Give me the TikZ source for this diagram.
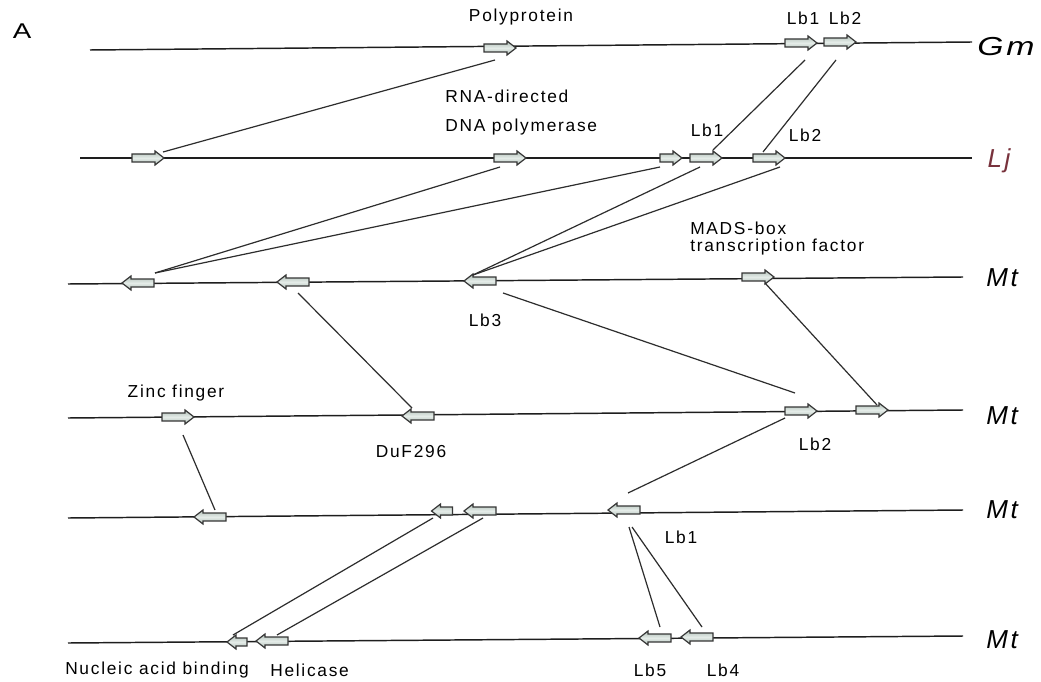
\documentclass[tikz,border=0pt]{standalone}
\usepackage{fontspec}
\setmainfont{Liberation Sans}[LetterSpace=10]
\newfontfamily\spfont{Liberation Sans}[LetterSpace=10]
\newfontfamily\gmfont{Liberation Sans}[LetterSpace=10,FakeStretch=1.3]
\usetikzlibrary{calc}
\definecolor{genemid}{RGB}{228,236,232}
\definecolor{geneedge}{RGB}{176,190,182}
\definecolor{geneline}{RGB}{55,55,55}
\definecolor{trackcol}{RGB}{30,30,30}
\definecolor{conncol}{RGB}{45,45,45}
\definecolor{ljred}{RGB}{120,50,60}
\tikzset{
  track/.style={draw=trackcol, line width=1.1pt},
  conn/.style={draw=conncol, line width=0.9pt},
  genenode/.style={rectangle, draw=none, inner sep=0pt, minimum height=7.5pt},
  genebody/.style={draw=geneline, line width=0.9pt, top color=geneedge, bottom color=geneedge, middle color=genemid},
  lbl/.style={inner sep=0pt, font=\fontsize{13}{14}\selectfont},
  sp/.style={inner sep=0pt, font=\spfont\itshape\fontsize{19.5}{20}\selectfont},
}
\newcommand\gene[5]{%
  \node[genenode, minimum width={#4*0.75pt}] (#1) at (#2,#3) {};
  \begin{scope}[shift={(#2,#3)}, xscale=#5]
    \path[genebody] ({-#4/2},-4) -- ({#4/2-9},-4) -- ({#4/2-9},-7) -- ({#4/2},0) -- ({#4/2-9},7) -- ({#4/2-9},4) -- ({-#4/2},4) -- cycle;
  \end{scope}}
\begin{document}
\begin{tikzpicture}[x=0.75pt, y=-0.75pt]
\useasboundingbox (0,0) rectangle (1041,681);
\fill[white] (0,0) rectangle (1041,681);

% tracks
\coordinate (t1l) at (90,50);  \coordinate (t1r) at (972,42);
\coordinate (t2l) at (80,158); \coordinate (t2r) at (972,158);
\coordinate (t3l) at (68,284); \coordinate (t3r) at (963,277);
\coordinate (t4l) at (68,418); \coordinate (t4r) at (963,410);
\coordinate (t5l) at (68,518); \coordinate (t5r) at (963,510);
\coordinate (t6l) at (68,643); \coordinate (t6r) at (963,636);
\draw[track] (t1l) -- (t1r);
\draw[track] (t2l) -- (t2r);
\draw[track] (t3l) -- (t3r);
\draw[track] (t4l) -- (t4r);
\draw[track] (t5l) -- (t5r);
\draw[track] (t6l) -- (t6r);

% genes
\gene{g1a}{500}{48}{32}{1}
\gene{g1b}{801}{43}{32}{1}
\gene{g1c}{840}{42}{32}{1}

\gene{g2a}{148}{158}{32}{1}
\gene{g2b}{510}{158}{32}{1}
\gene{g2c}{671}{158}{22}{1}
\gene{g2d}{706}{158}{32}{1}
\gene{g2e}{769}{158}{32}{1}

\gene{g3a}{138}{283}{32}{-1}
\gene{g3b}{293}{282}{32}{-1}
\gene{g3c}{480}{281}{32}{-1}
\gene{g3d}{758}{277}{32}{1}

\gene{g4a}{178}{417}{32}{1}
\gene{g4b}{418}{416}{32}{-1}
\gene{g4c}{801}{411}{32}{1}
\gene{g4d}{872}{410}{32}{1}

\gene{g5a}{210}{517}{32}{-1}
\gene{g5b}{442}{511}{21}{-1}
\gene{g5c}{480}{511}{32}{-1}
\gene{g5d}{624}{510}{32}{-1}

\gene{g6a}{237}{642}{20}{-1}
\gene{g6b}{272}{641}{32}{-1}
\gene{g6c}{655}{638}{32}{-1}
\gene{g6d}{697}{637}{32}{-1}

% connectors
\draw[conn] ($(g1a)+(-5,12)$) -- ($(g2a)+(15,-6)$);
\draw[conn] ($(g1b)+(4,17)$) -- ($(g2d)+(7,-8)$);
\draw[conn] ($(g1c)+(-4,18)$) -- ($(g2e)+(-6,-6)$);
\draw[conn] ($(g2b)+(-10,9)$) -- ($(g3a)+(17,-10)$);
\draw[conn] ($(g2c)+(-11,9)$) -- ($(g3a)+(17,-10)$);
\draw[conn] ($(g2d)+(-6,9)$) -- ($(g3c)+(-7,-6)$);
\draw[conn] ($(g2e)+(11,9)$) -- ($(g3c)+(-7,-6)$);
\draw[conn] ($(g3b)+(5,11)$) -- ($(g4b)+(-6,-8)$);
\draw[conn] ($(g3c)+(23,12)$) -- ($(g4c)+(-6,-18)$);
\draw[conn] ($(g3d)+(7,6)$) -- ($(g4d)+(5,-5)$);
\draw[conn] ($(g4c)+(-16,7)$) -- ($(g5d)+(4,-17)$);
\draw[conn] ($(g4a)+(5,18)$) -- ($(g5a)+(5,-7)$);
\draw[conn] ($(g5b)+(-9,7)$) -- ($(g6a)+(-4,-7)$);
\draw[conn] ($(g5c)+(3,7)$) -- ($(g6b)+(5,-6)$);
\draw[conn] ($(g5d)+(5,17)$) -- ($(g6c)+(5,-11)$);
\draw[conn] ($(g5d)+(8,17)$) -- ($(g6d)+(5,-10)$);

% labels
\node[inner sep=0pt, font=\gmfont\fontsize{16}{17}\selectfont] (lA) at (22,31) {A};
\node[lbl] (lpoly) at (521,17) {Polyprotein};
\node[lbl] (l1b) at (803,18) {Lb1};
\node[lbl] (l1c) at (845,18) {Lb2};
\node[lbl, anchor=west] (lrna) at (445,96) {RNA-directed};
\node[lbl, anchor=west] (ldna) at (445,127) {DNA polymerase};
\node[lbl] (l2d) at (707,130) {Lb1};
\node[lbl] (l2e) at (805,135) {Lb2};
\node[lbl, anchor=west] (lmads) at (690,228) {MADS-box};
\node[lbl, anchor=west] (ltf) at (690,247) {transcription factor};
\node[lbl] (l3c) at (485,320) {Lb3};
\node[lbl] (lzinc) at (176,393) {Zinc finger};
\node[lbl] (lduf) at (411,452) {DuF296};
\node[lbl] (l4c) at (815,444) {Lb2};
\node[lbl] (l5d) at (681,537) {Lb1};
\node[lbl, anchor=west] (lnab) at (65,670) {Nucleic acid binding};
\node[lbl, anchor=west] (lhel) at (270,670) {Helicase};
\node[lbl] (l6c) at (650,670) {Lb5};
\node[lbl] (l6d) at (723,670) {Lb4};

% species
\node[sp, font=\gmfont\itshape\fontsize{19.5}{20}\selectfont] (sGm) at (1006,47) {Gm};
\node[sp, text=ljred] (sLj) at (999,161) {Lj};
\node[sp] (sMt3) at (1002,278) {Mt};
\node[sp] (sMt4) at (1002,416) {Mt};
\node[sp] (sMt5) at (1002,510) {Mt};
\node[sp] (sMt6) at (1002,640) {Mt};
\end{tikzpicture}
\end{document}
